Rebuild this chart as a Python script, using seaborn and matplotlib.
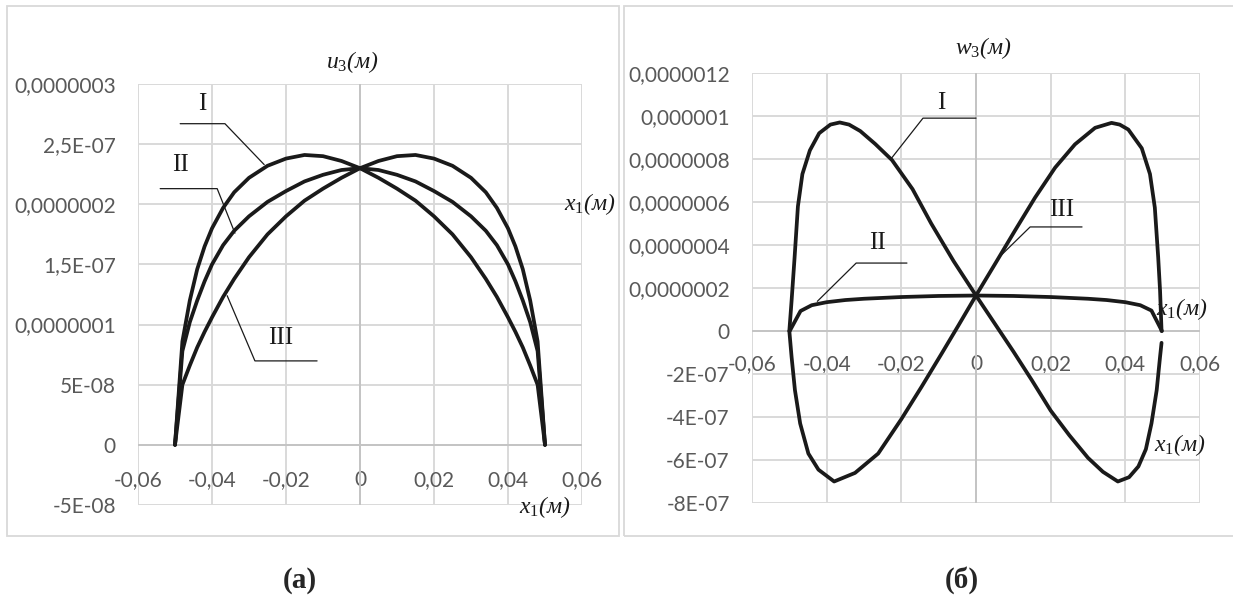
import matplotlib
matplotlib.use("Agg")
import matplotlib.pyplot as plt
from matplotlib.patches import Rectangle
import seaborn as sns

# ---- data ----
# (a) u3 along x1
xa = [-0.05, -0.048, -0.046, -0.044, -0.042, -0.04, -0.037, -0.034, -0.03, -0.025,
      -0.02, -0.015, -0.01, -0.005, 0, 0.005, 0.01, 0.015, 0.02, 0.025,
      0.03, 0.034, 0.037, 0.04, 0.042, 0.044, 0.046, 0.048, 0.05]
u_I = [0, 8.6e-8, 1.2e-7, 1.46e-7, 1.65e-7, 1.8e-7, 1.97e-7, 2.1e-7, 2.22e-7, 2.32e-7,
       2.38e-7, 2.41e-7, 2.4e-7, 2.36e-7, 2.3e-7, 2.22e-7, 2.13e-7, 2.03e-7, 1.9e-7, 1.75e-7,
       1.56e-7, 1.38e-7, 1.23e-7, 1.06e-7, 9.4e-8, 8.1e-8, 6.6e-8, 5.0e-8, 0]
u_II = [0, 7.8e-8, 1.02e-7, 1.2e-7, 1.36e-7, 1.5e-7, 1.66e-7, 1.78e-7, 1.9e-7, 2.02e-7,
        2.11e-7, 2.19e-7, 2.245e-7, 2.285e-7, 2.3e-7, 2.285e-7, 2.245e-7, 2.19e-7, 2.11e-7, 2.02e-7,
        1.9e-7, 1.78e-7, 1.66e-7, 1.5e-7, 1.36e-7, 1.2e-7, 1.02e-7, 7.8e-8, 0]
u_III = [0, 5.0e-8, 6.6e-8, 8.1e-8, 9.4e-8, 1.06e-7, 1.23e-7, 1.38e-7, 1.56e-7, 1.75e-7,
         1.9e-7, 2.03e-7, 2.13e-7, 2.22e-7, 2.3e-7, 2.36e-7, 2.4e-7, 2.41e-7, 2.38e-7, 2.32e-7,
         2.22e-7, 2.1e-7, 1.97e-7, 1.8e-7, 1.65e-7, 1.46e-7, 1.2e-7, 8.6e-8, 0]

# (б) w3 along x1
xw_I = [-0.05, -0.0494, -0.0486, -0.0477, -0.0465, -0.0445, -0.042, -0.039, -0.0365, -0.034,
        -0.031, -0.027, -0.0225, -0.017, -0.012, -0.006, 0, 0.005, 0.01, 0.015,
        0.02, 0.025, 0.03, 0.034, 0.038, 0.041, 0.0435, 0.0455, 0.047, 0.0484,
        0.0493, 0.0497]
w_I = [0, 1.4e-7, 3.4e-7, 5.8e-7, 7.3e-7, 8.4e-7, 9.2e-7, 9.6e-7, 9.7e-7, 9.6e-7,
       9.3e-7, 8.7e-7, 7.95e-7, 6.6e-7, 5.0e-7, 3.25e-7, 1.65e-7, 3.5e-8, -9.5e-8, -2.3e-7,
       -3.7e-7, -4.85e-7, -5.9e-7, -6.55e-7, -7.0e-7, -6.8e-7, -6.3e-7, -5.5e-7, -4.3e-7, -2.75e-7,
       -1.2e-7, -5.5e-8]
xw_II = [-0.0499, -0.047, -0.044, -0.04, -0.035, -0.03, -0.02, -0.01, 0, 0.01,
         0.02, 0.03, 0.035, 0.04, 0.044, 0.047, 0.0498]
w_II = [0, 9.3e-8, 1.2e-7, 1.34e-7, 1.44e-7, 1.5e-7, 1.58e-7, 1.63e-7, 1.65e-7, 1.63e-7,
        1.58e-7, 1.5e-7, 1.44e-7, 1.34e-7, 1.2e-7, 9.5e-8, 0]
xw_III = [-0.05, -0.0494, -0.0485, -0.0471, -0.0449, -0.0422, -0.038, -0.0324, -0.0262, -0.02,
          -0.0146, -0.0092, -0.0047, 0, 0.0051, 0.0104, 0.0158, 0.0212, 0.0265, 0.0319,
          0.0363, 0.0385, 0.0408, 0.0444, 0.0466, 0.0479, 0.0488, 0.0493, 0.0497]
w_III = [0, -1.2e-7, -2.75e-7, -4.3e-7, -5.7e-7, -6.45e-7, -7.0e-7, -6.6e-7, -5.7e-7, -4.1e-7,
         -2.6e-7, -1.05e-7, 2.6e-8, 1.65e-7, 3.12e-7, 4.66e-7, 6.2e-7, 7.6e-7, 8.68e-7, 9.45e-7,
         9.68e-7, 9.6e-7, 9.37e-7, 8.5e-7, 7.3e-7, 5.74e-7, 3.43e-7, 1.88e-7, 0]

x_ticks = [-0.06, -0.04, -0.02, 0, 0.02, 0.04, 0.06]
x_labels = ["-0,06", "-0,04", "-0,02", "0", "0,02", "0,04", "0,06"]
ya_ticks = [-5e-8, 0, 5e-8, 1e-7, 1.5e-7, 2e-7, 2.5e-7, 3e-7]
ya_labels = ["-5E-08", "0", "5E-08", "0,0000001", "1,5E-07", "0,0000002", "2,5E-07", "0,0000003"]
yb_ticks = [-8e-7, -6e-7, -4e-7, -2e-7, 0, 2e-7, 4e-7, 6e-7, 8e-7, 1e-6, 1.2e-6]
yb_labels = ["-8E-07", "-6E-07", "-4E-07", "-2E-07", "0", "0,0000002", "0,0000004",
             "0,0000006", "0,0000008", "0,000001", "0,0000012"]

sns.set_style("white")
plt.rcParams["font.family"] = ["Lato", "DejaVu Sans"]
plt.rcParams["mathtext.fontset"] = "custom"
plt.rcParams["mathtext.it"] = "Liberation Serif:italic"
plt.rcParams["mathtext.rm"] = "Liberation Serif"
plt.rcParams["mathtext.default"] = "it"

W, H = 1233, 601
fig = plt.figure(figsize=(W / 100, H / 100), dpi=100)

# grey chart frames
fig.patches.append(Rectangle((7 / W, 1 - 536 / H), 612 / W, 530 / H, transform=fig.transFigure,
                             fill=False, ec="#d9d9d9", lw=1.3))
fig.patches.append(Rectangle((624 / W, 1 - 536 / H), 620 / W, 530 / H, transform=fig.transFigure,
                             fill=False, ec="#d9d9d9", lw=1.3))

axa = fig.add_axes([138 / W, 1 - 505 / H, 444 / W, 421 / H])
axb = fig.add_axes([752 / W, 1 - 503 / H, 448 / W, 430 / H])

curve_kw = dict(color="#1a1a1a", lw=2.7, sort=False, estimator=None, zorder=3)
sns.lineplot(x=xa, y=u_I, ax=axa, **curve_kw)
sns.lineplot(x=xa, y=u_II, ax=axa, **curve_kw)
sns.lineplot(x=xa, y=u_III, ax=axa, **curve_kw)
sns.lineplot(x=xw_I, y=w_I, ax=axb, **curve_kw)
sns.lineplot(x=xw_II, y=w_II, ax=axb, **curve_kw)
sns.lineplot(x=xw_III, y=w_III, ax=axb, **curve_kw)

serif = ["Liberation Serif", "DejaVu Serif"]
for ax, yt, yl, lims, xpad in [(axa, ya_ticks, ya_labels, (-5e-8, 3e-7), 18),
                                (axb, yb_ticks, yb_labels, (-8e-7, 1.2e-6), 16.5)]:
    ax.set_xlim(-0.06, 0.06)
    ax.set_ylim(*lims)
    ax.set_xticks(x_ticks, x_labels)
    ax.set_yticks(yt, yl)
    ax.grid(True, color="#d9d9d9", lw=1.4, zorder=0)
    ax.axhline(0, color="#c4c4c4", lw=1.4, zorder=1)
    ax.axvline(0, color="#c4c4c4", lw=1.4, zorder=1)
    for s in ["top", "right", "left"]:
        ax.spines[s].set_visible(False)
    ax.spines["bottom"].set_position(("data", 0))
    ax.spines["bottom"].set_color("none")
    ax.tick_params(axis="x", length=0, pad=xpad, labelsize=15, labelcolor="#595959")
    ax.tick_params(axis="y", length=0, pad=16, labelsize=15, labelcolor="#595959")
    ax.set_xlabel("")
    ax.set_ylabel("")
    ax.set_facecolor("none")

lab_kw = dict(family=serif, fontsize=18, color="#1a1a1a", ha="center", va="center")
lead_kw = dict(color="#1a1a1a", lw=0.9, zorder=4)
ital = dict(family=serif, style="italic", fontsize=17, color="#1a1a1a", ha="center", va="center")

# (a) annotations
axa.text(-0.0022, 3.18e-7, "$u_3$(м)", clip_on=False, **ital)
axa.text(0.0622, 2.0e-7, "$x_1$(м)", clip_on=False, **ital)
axa.text(0.050, -5.2e-8, "$x_1$(м)", clip_on=False, **ital)
axa.text(-0.0427, 2.83e-7, "I", **lab_kw)
axa.plot([-0.0486, -0.0365, -0.0259], [2.67e-7, 2.67e-7, 2.33e-7], **lead_kw)
axa.text(-0.0486, 2.33e-7, "II", **lab_kw)
axa.plot([-0.054, -0.0386, -0.0338], [2.13e-7, 2.13e-7, 1.76e-7], **lead_kw)
axa.text(-0.0214, 8.9e-8, "III", **lab_kw)
axa.plot([-0.0116, -0.0284, -0.0359], [6.98e-8, 6.98e-8, 1.24e-7], **lead_kw)

# (б) annotations
axb.text(0.0019, 1.316e-6, "$w_3$(м)", clip_on=False, **ital)
axb.text(0.0552, 1.0e-7, "$x_1$(м)", clip_on=False, **ital)
axb.text(0.0546, -5.3e-7, "$x_1$(м)", clip_on=False, **ital)
axb.text(-0.0094, 1.06e-6, "I", **lab_kw)
axb.plot([0, -0.0142, -0.0228], [9.9e-7, 9.9e-7, 8.0e-7], **lead_kw)
axb.text(-0.0265, 4.1e-7, "II", **lab_kw)
axb.plot([-0.0185, -0.0321, -0.0425], [3.16e-7, 3.16e-7, 1.38e-7], **lead_kw)
axb.text(0.023, 5.62e-7, "III", **lab_kw)
axb.plot([0.0284, 0.0145, 0.0066], [4.84e-7, 4.84e-7, 3.5e-7], **lead_kw)

fig.text(300 / W, 1 - 580 / H, "(а)", family=serif, fontweight="bold", fontsize=21,
         ha="center", va="center")
fig.text(962 / W, 1 - 580 / H, "(б)", family=serif, fontweight="bold", fontsize=21,
         ha="center", va="center")

fig.savefig("out.png", dpi=100, facecolor="white")
